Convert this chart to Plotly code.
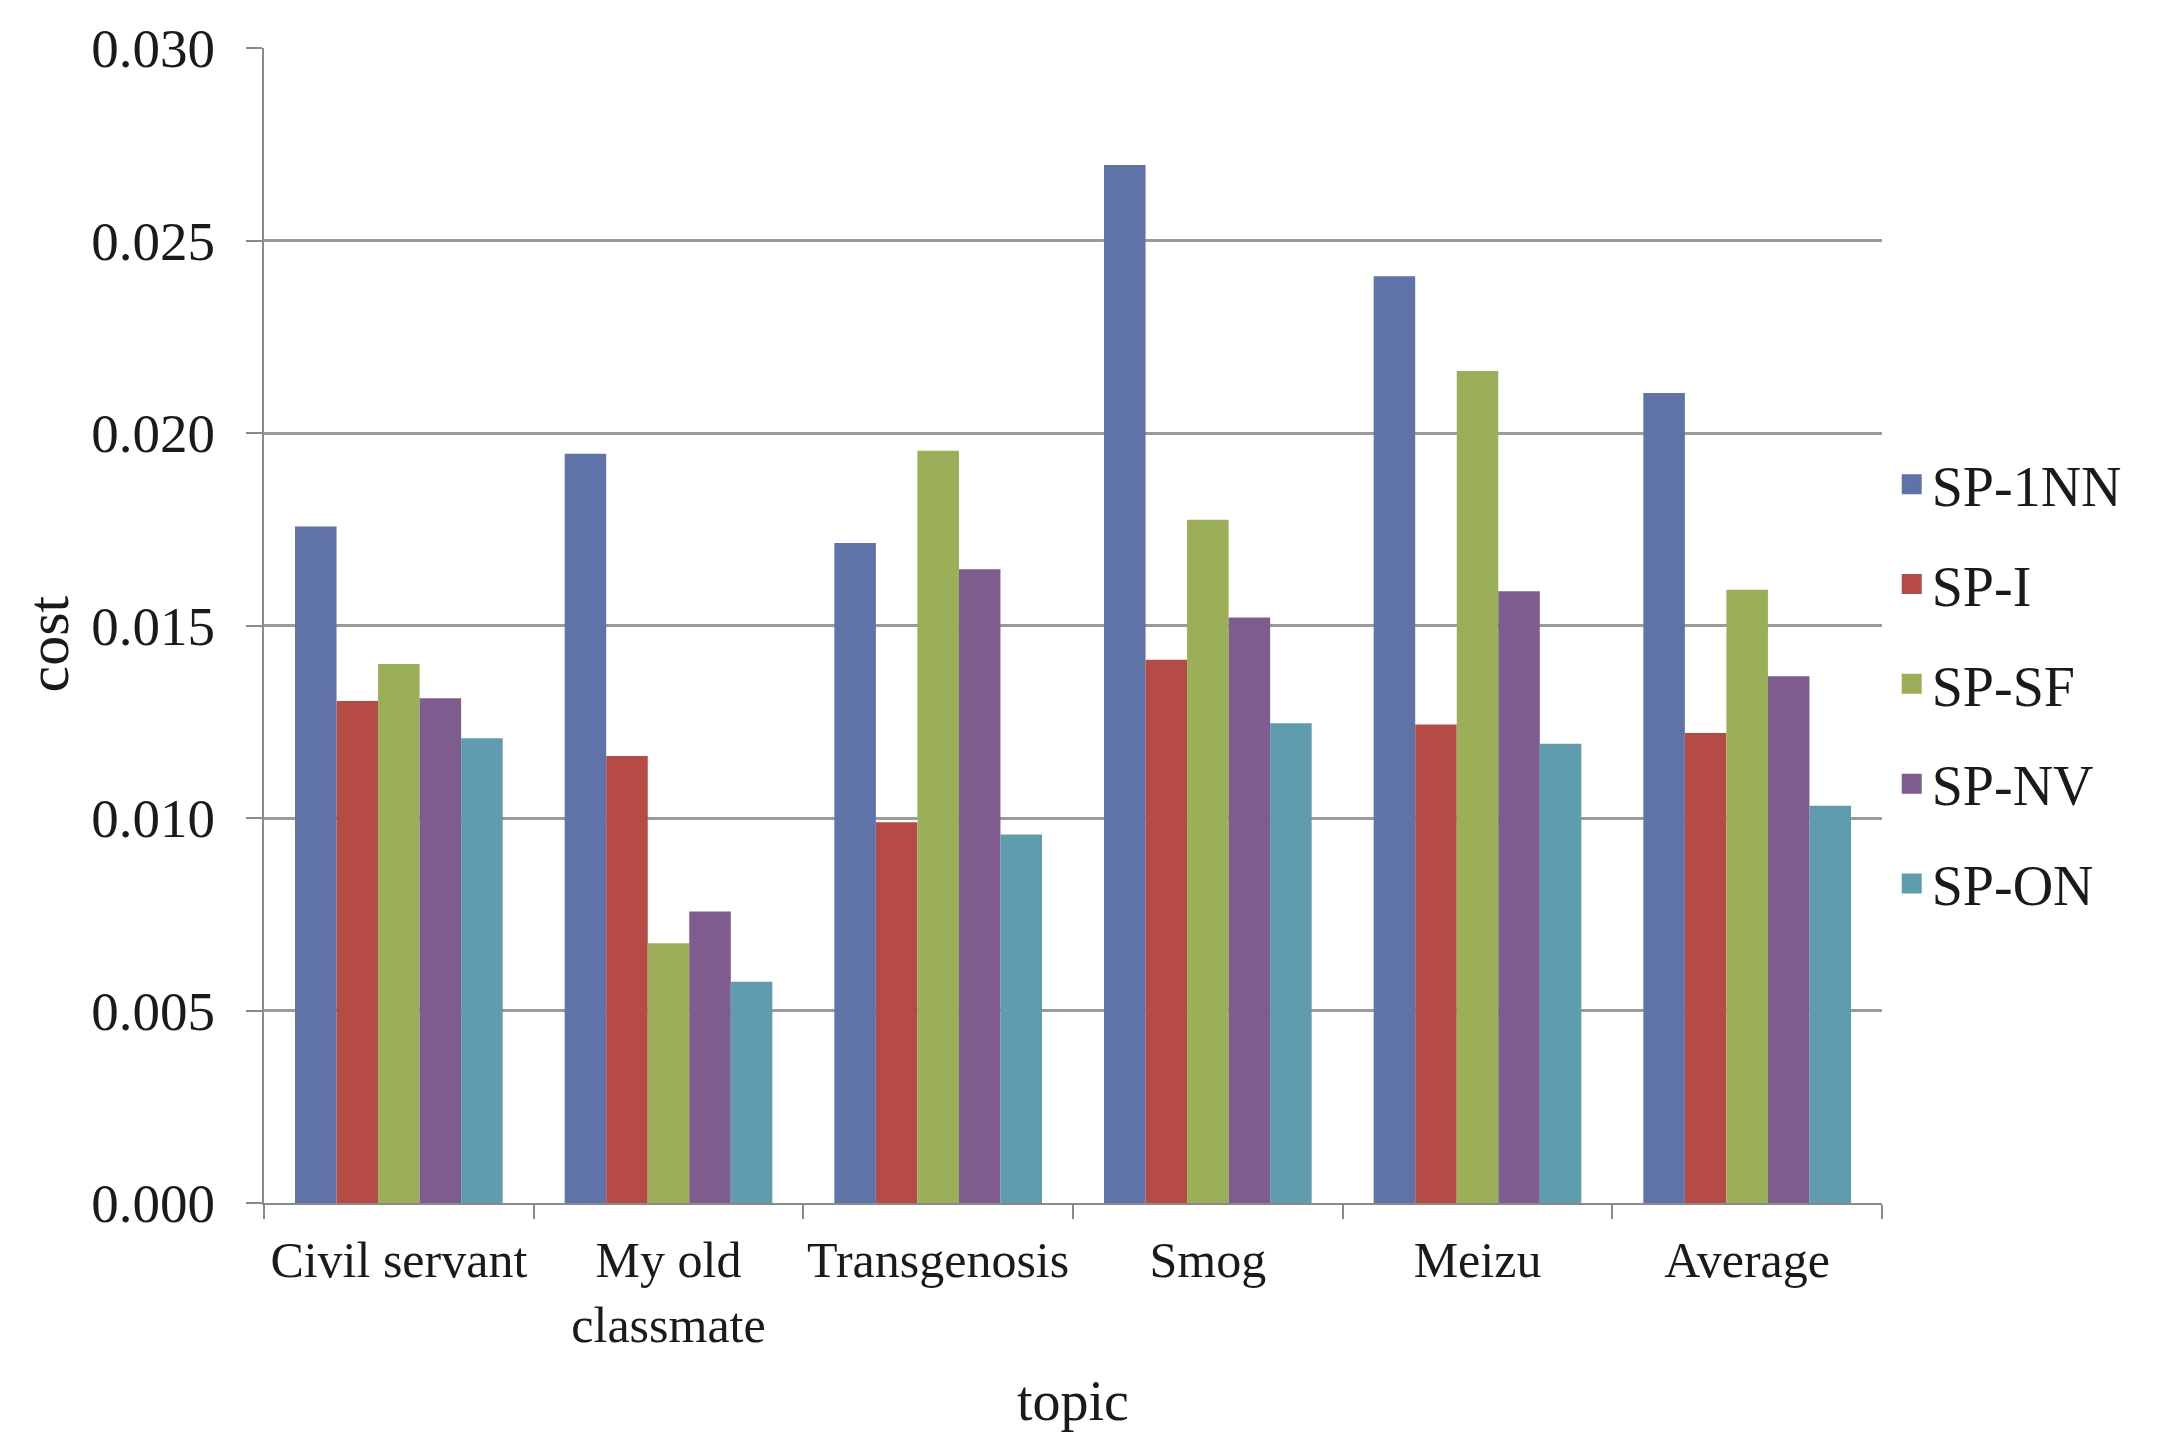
import plotly.graph_objects as go

categories = ["Civil servant", "My old classmate", "Transgenosis", "Smog", "Meizu", "Average"]
tick_labels = ["Civil servant", "My old<br>classmate", "Transgenosis", "Smog", "Meizu", "Average"]

series_names = ["SP-1NN", "SP-I", "SP-SF", "SP-NV", "SP-ON"]
sp_1nn = [0.01757, 0.01946, 0.01714, 0.02696, 0.02407, 0.02104]
sp_i = [0.01304, 0.01161, 0.00989, 0.01411, 0.01243, 0.01221]
sp_sf = [0.01400, 0.00675, 0.01954, 0.01775, 0.02161, 0.01593]
sp_nv = [0.01311, 0.00757, 0.01646, 0.01521, 0.01589, 0.01368]
sp_on = [0.01207, 0.00575, 0.00957, 0.01246, 0.01193, 0.01032]
series_values = [sp_1nn, sp_i, sp_sf, sp_nv, sp_on]
colors = ["#5F73A8", "#B64B46", "#9AAF57", "#7F5C8E", "#5E9CAE"]

y_ticks = [0.000, 0.005, 0.010, 0.015, 0.020, 0.025, 0.030]

FONT = "Liberation Serif"
TXT = "#1a1a1a"

fig = go.Figure()
for name, vals, col in zip(series_names, series_values, colors):
    fig.add_trace(go.Bar(
        x=categories, y=vals, name=name,
        marker=dict(color=col, line=dict(width=0)),
        showlegend=False,
    ))
# legend entries
for name, col in zip(series_names, colors):
    fig.add_trace(go.Scatter(
        x=[None], y=[None], name=name, mode="markers",
        legendgroup=name,
        marker=dict(symbol="square", size=16, color=col, line=dict(color=col, width=4)),
        hoverinfo="skip",
    ))

fig.update_layout(
    width=2141, height=1432,
    paper_bgcolor="white", plot_bgcolor="white",
    margin=dict(l=256, r=267, t=40, b=237),
    barmode="group", bargap=0.23, bargroupgap=0,
    font=dict(family=FONT, color=TXT, size=50),
    showlegend=True,
    legend=dict(
        x=1.006, xanchor="left", y=0.4495, yanchor="middle",
        font=dict(family=FONT, size=56, color=TXT),
        tracegroupgap=24, traceorder="grouped",
        bgcolor="rgba(0,0,0,0)", borderwidth=0,
    ),
    annotations=[
        dict(text="topic", xref="paper", yref="paper", x=0.5, y=-0.1714,
             xanchor="center", yanchor="middle", showarrow=False,
             font=dict(family=FONT, size=56, color=TXT)),
        dict(text="cost", xref="paper", yref="paper", x=-0.1338, y=0.484,
             xanchor="center", yanchor="middle", showarrow=False, textangle=-90,
             font=dict(family=FONT, size=60, color=TXT)),
    ],
)

fig.update_xaxes(
    type="category", automargin=False,
    tickmode="array", tickvals=categories, ticktext=tick_labels, tickangle=0,
    tickson="boundaries", ticks="outside", ticklen=14, tickwidth=2, tickcolor="#8a8a8a",
    ticklabelstandoff=12,
    showline=True, linecolor="#8a8a8a", linewidth=2,
    showgrid=False, zeroline=False,
    tickfont=dict(family=FONT, size=50, color=TXT),
)
fig.update_yaxes(
    range=[0, 0.030], automargin=False,
    tickmode="array", tickvals=y_ticks, ticktext=[f"{v:.3f}" for v in y_ticks],
    ticks="outside", ticklen=16, tickwidth=2, tickcolor="#8a8a8a",
    ticklabelstandoff=20,
    showline=True, linecolor="#8a8a8a", linewidth=2,
    showgrid=True, gridcolor="#9a9a9a", gridwidth=3,
    zeroline=False,
    tickfont=dict(family=FONT, size=55, color=TXT),
)

fig.write_html("out.html")
